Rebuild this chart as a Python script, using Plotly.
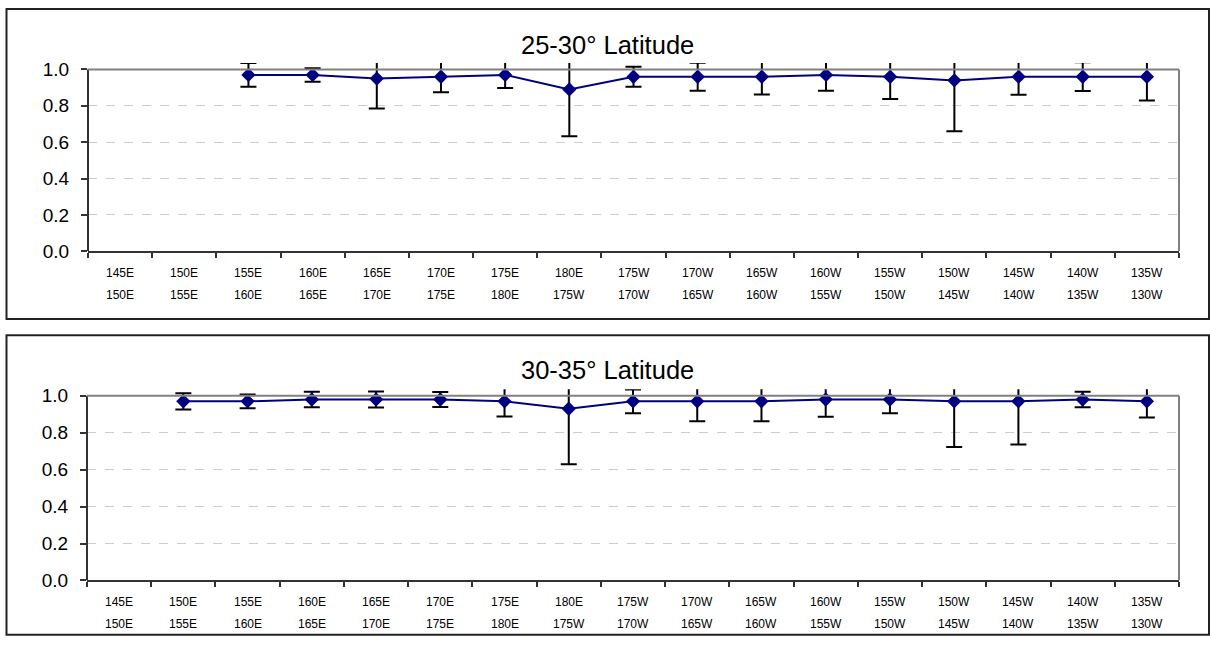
import plotly.graph_objects as go

# ---------------- data ----------------
lon_from = ["145E", "150E", "155E", "160E", "165E", "170E", "175E", "180E", "175W",
            "170W", "165W", "160W", "155W", "150W", "145W", "140W", "135W"]
lon_to = ["150E", "155E", "160E", "165E", "170E", "175E", "180E", "175W", "170W",
          "165W", "160W", "155W", "150W", "145W", "140W", "135W", "130W"]
categories = [f"{a}-{b}" for a, b in zip(lon_from, lon_to)]

lat25_mean = [None, None, 0.97, 0.97, 0.95, 0.96, 0.97, 0.89, 0.96,
              0.96, 0.96, 0.97, 0.96, 0.94, 0.96, 0.96, 0.96]
lat25_err = [None, None, 0.065, 0.037, 0.165, 0.086, 0.072, 0.258, 0.055,
             0.077, 0.098, 0.087, 0.122, 0.28, 0.099, 0.079, 0.131]

lat30_mean = [None, 0.97, 0.97, 0.98, 0.98, 0.98, 0.97, 0.93, 0.97,
              0.97, 0.97, 0.98, 0.98, 0.97, 0.97, 0.98, 0.97]
lat30_err = [None, 0.044, 0.037, 0.042, 0.043, 0.04, 0.082, 0.30, 0.064,
             0.108, 0.108, 0.093, 0.074, 0.247, 0.234, 0.042, 0.087]

panel_titles = ["25-30° Latitude", "30-35° Latitude"]
y_ticks = [0.0, 0.2, 0.4, 0.6, 0.8, 1.0]

# ---------------- layout constants (pixels) ----------------
W, H = 1210, 655
FONT = "Liberation Sans, Arial, sans-serif"
NAVY = "#000080"


def px_x(p):
    return p / W


def px_y(p):
    return 1 - p / H


YMAX = 1.035
panels = [
    # plot left/right, y pixel of 0 and of 1.0, outer box top/bottom, title y
    dict(l=88, r=1179, y0=253, y1=67, bt=5, bb=322.5, ty=41.5),
    dict(l=87, r=1179, y0=590, y1=401, bt=339, bb=645.5, ty=375),
]

fig = go.Figure()
layout = dict(
    width=W, height=H,
    margin=dict(l=0, r=0, t=0, b=0),
    paper_bgcolor="white", plot_bgcolor="white",
    showlegend=False,
    font=dict(family=FONT, color="black"),
    shapes=[], annotations=[],
)

series = [(lat25_mean, lat25_err), (lat30_mean, lat30_err)]

for i, (p, (mean, err)) in enumerate(zip(panels, series)):
    sfx = "" if i == 0 else str(i + 1)
    xa, ya = "x" + sfx, "y" + sfx
    fig.add_trace(go.Scatter(
        x=categories, y=mean, xaxis=xa, yaxis=ya,
        mode="lines+markers",
        line=dict(color=NAVY, width=2),
        marker=dict(symbol="diamond", size=11, color=NAVY),
        error_y=dict(type="data", array=err, symmetric=True,
                     color="black", thickness=2, width=8),
        hoverinfo="skip",
    ))
    unit = p["y0"] - p["y1"]
    top_px = p["y1"] - (YMAX - 1.0) * unit
    layout["xaxis" + sfx] = dict(
        domain=[px_x(p["l"]), px_x(p["r"])],
        anchor=ya, type="category",
        categoryorder="array", categoryarray=categories,
        range=[-0.5, len(categories) - 0.5],
        showline=True, linecolor="#333333", linewidth=2,
        ticks="outside", ticklen=5, tickwidth=1.5, tickcolor="#333333",
        tickson="boundaries", showticklabels=False,
        showgrid=False, zeroline=False, fixedrange=True,
    )
    layout["yaxis" + sfx] = dict(
        domain=[px_y(p["y0"]), px_y(top_px)],
        anchor=xa, range=[0, YMAX],
        tickvals=y_ticks, ticktext=[f"{v:.1f}" for v in y_ticks],
        tickfont=dict(size=19, family=FONT, color="black"),
        ticks="outside", ticklen=6, tickwidth=2, tickcolor="#333333",
        ticklabelstandoff=8,
        showline=False, zeroline=False,
        showgrid=True, gridcolor="#cccccc", gridwidth=1, griddash="dash",
        fixedrange=True,
    )
    xd, yref = xa + " domain", ya
    # left axis line (0 to 1.0)
    layout["shapes"].append(dict(type="line", xref=xd, yref=yref, x0=0, x1=0,
                                 y0=0, y1=1.0, line=dict(color="#333333", width=2)))
    # top plot border at 1.0 (gray)
    layout["shapes"].append(dict(type="line", xref=xd, yref=yref, x0=0, x1=1,
                                 y0=1.0, y1=1.0, line=dict(color="#808080", width=2)))
    # right plot border (gray)
    layout["shapes"].append(dict(type="line", xref=xd, yref=yref, x0=1, x1=1,
                                 y0=0, y1=1.0, line=dict(color="#808080", width=2)))
    # outer chart box
    layout["shapes"].append(dict(type="rect", xref="paper", yref="paper",
                                 x0=px_x(6.5), x1=px_x(1209), y0=px_y(p["bb"]), y1=px_y(p["bt"]),
                                 line=dict(color="#222222", width=2), fillcolor="rgba(0,0,0,0)",
                                 layer="below"))
    # title
    layout["annotations"].append(dict(
        text=panel_titles[i], xref="paper", yref="paper",
        x=px_x(607.5), y=px_y(p["ty"]), xanchor="center", yanchor="middle",
        showarrow=False, font=dict(size=25.5, family=FONT, color="black")))
    # two-line category labels
    for c, a, b in zip(categories, lon_from, lon_to):
        for k, t in enumerate((a, b)):
            layout["annotations"].append(dict(
                text=t, xref=xa, yref=ya + " domain", x=c, y=0,
                xanchor="center", yanchor="middle", yshift=-22 * (k + 1),
                showarrow=False, font=dict(size=12, family=FONT, color="black")))

fig.update_layout(**layout)
fig.write_html(
    "out.html",
    config={"displayModeBar": False},
    post_script="document.documentElement.style.margin='0';document.body.style.margin='0';document.body.style.overflow='hidden';",
)
